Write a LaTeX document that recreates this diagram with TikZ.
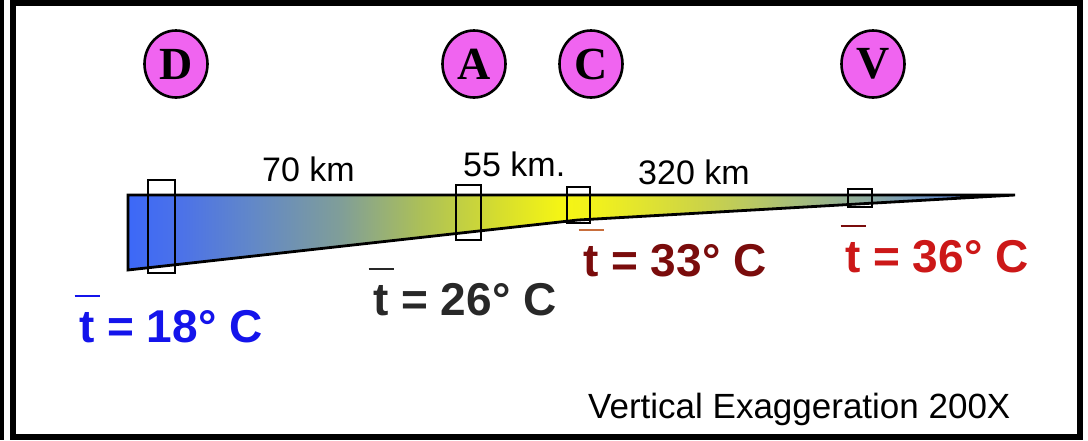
\documentclass[tikz,border=0pt]{standalone}
\usepackage{fontspec}
\setmainfont{Liberation Sans}
\newfontfamily\circfont{Liberation Serif}
\usetikzlibrary{shapes.geometric}
\definecolor{wblue}{RGB}{60,104,248}
\definecolor{magentafill}{RGB}{240,100,240}
\definecolor{lblue}{RGB}{20,20,235}
\definecolor{lgray}{RGB}{40,40,40}
\definecolor{lmaroon}{RGB}{122,12,12}
\definecolor{lred}{RGB}{204,24,24}
\definecolor{obarbrown}{RGB}{200,110,60}
\pgfdeclarehorizontalshading{wedgeshade}{100bp}{%
  color(0bp)=(wblue);
  color(25bp)=(wblue);
  color(28bp)=(rgb,255:red,76;green,114;blue,232);
  color(32bp)=(rgb,255:red,98;green,136;blue,200);
  color(37bp)=(rgb,255:red,128;green,158;blue,152);
  color(41.5bp)=(rgb,255:red,172;green,192;blue,88);
  color(46bp)=(rgb,255:red,215;green,222;blue,45);
  color(49.4bp)=(rgb,255:red,245;green,245;blue,20);
  color(51.6bp)=(rgb,255:red,240;green,240;blue,30);
  color(57.2bp)=(rgb,255:red,205;green,212;blue,70);
  color(62.9bp)=(rgb,255:red,165;green,188;blue,125);
  color(66.8bp)=(rgb,255:red,140;green,170;blue,160);
  color(71.3bp)=(rgb,255:red,100;green,140;blue,210);
  color(75bp)=(rgb,255:red,70;green,100;blue,230);
  color(100bp)=(rgb,255:red,70;green,100;blue,230)}
\newcommand{\tbarlabel}[2]{\rlap{\color{#1}\hspace{-0.1em}\rule[0.97em]{0.55em}{2.2pt}}#2}
\tikzset{
  site/.style={ellipse, draw=black, line width=2.6pt, fill=magentafill,
    minimum width=63pt, minimum height=67pt, inner sep=0pt,
    font=\circfont\bfseries\fontsize{46}{46}\selectfont},
  probe/.style={draw=black, line width=2.8pt},
  dist/.style={anchor=base west, inner sep=0pt, font=\fontsize{34}{34}\selectfont},
  temp/.style={anchor=base west, inner sep=0pt, font=\bfseries\fontsize{46}{46}\selectfont},
}
\begin{document}
\begin{tikzpicture}[x=1pt,y=-1pt]
\useasboundingbox (0,0) rectangle (1088,440);
% frame
\fill[black] (10,0) rectangle (1083,440);
\fill[white] (16,5.5) rectangle (1077,434);
\fill[black] (0,0) rectangle (4.3,440);
% wedge
\coordinate (wl1) at (128,195);
\coordinate (tip) at (1015,195);
\coordinate (bk) at (578,220);
\coordinate (wl2) at (128,270);
\shade[shading=wedgeshade] (wl1) -- (tip) -- (bk) -- (wl2) -- cycle;
\draw[line width=2.8pt, line join=miter] (wl1) -- (tip) -- (bk) -- (wl2) -- cycle;
% probe boxes
\draw[probe] (148,180) rectangle (175,273);
\draw[probe] (456,185) rectangle (481,240);
\draw[probe] (567,187) rectangle (590,223);
\draw[probe] (848,189) rectangle (872,207);
% sites
\node[site] (D) at (176,64) {D};
\node[site] (A) at (474,64) {A};
\node[site] (C) at (591,64) {C};
\node[site] (V) at (873,64) {V};
% distances
\node[dist] (d70) at (262,181) {70 km};
\node[dist] (d55) at (463,176) {55 km.};
\node[dist] (d320) at (638,184) {320 km};
% temperatures
\node[temp, text=lblue] (t18) at (79,342) {\tbarlabel{lblue}{t} = 18° C};
\node[temp, text=lgray] (t26) at (373,315) {\tbarlabel{lgray}{t} = 26° C};
\node[temp, text=lmaroon] (t33) at (583,276) {\tbarlabel{obarbrown}{t} = 33° C};
\node[temp, text=lred] (t36) at (845,272) {\tbarlabel{lmaroon}{t} = 36° C};
% note
\node[anchor=base west, inner sep=0pt, font=\fontsize{35}{35}\selectfont] (ve) at (588,418) {Vertical Exaggeration 200X};
\end{tikzpicture}
\end{document}
